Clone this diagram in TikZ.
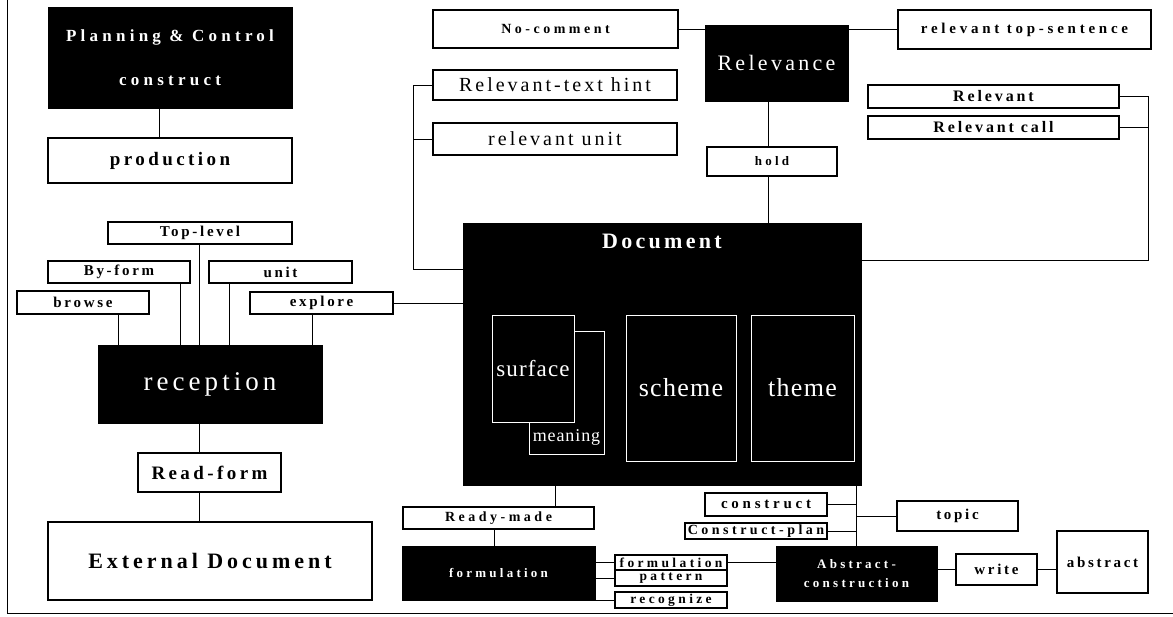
\documentclass[tikz,border=0pt]{standalone}
\usepackage{fontspec}
\setmainfont{Liberation Serif}
\newfontfamily\lblfont[LetterSpace=18]{Liberation Serif}
\newfontfamily\widefont[LetterSpace=25]{Liberation Serif}
\newfontfamily\plainfont[LetterSpace=15]{Liberation Serif}
\newfontfamily\pagefont[LetterSpace=5]{Liberation Serif}
\newcommand{\fsz}[1]{\fontsize{#1}{#1}\selectfont}
\usetikzlibrary{shapes}
\tikzstyle{whitebox} = [draw, rectangle, fill=white, inner sep=0pt, line width=1.2pt]
\tikzstyle{blackbox} = [draw, rectangle, fill=black, text=white, inner sep=0pt]
\tikzstyle{pagebox} = [draw=white, rectangle, fill=black, text=white, inner sep=0pt, line width=0.6pt]

\begin{document}
\begin{tikzpicture}[x=1pt,y=-1pt,line width=1pt]
	\useasboundingbox (0,0) rectangle (1173,616);
	\draw (7,0) -- (7,613) -- (1173,613);

	% planning and relevance blocks at the top
	\node [blackbox,minimum width=244pt,minimum height=101pt,align=center,font={\widefont\bfseries\fontsize{17}{44}\selectfont}] (plan) at (170,57.5) {Planning \& Control\\construct};
	\node [whitebox,minimum width=244pt,minimum height=45pt,font={\lblfont\bfseries\fsz{19}}] (prod) at (170,160.5) {production};
	\node [whitebox,minimum width=245pt,minimum height=38pt,font={\widefont\bfseries\fsz{14}}] (nocom) at (555.5,29) {No-comment};
	\node [blackbox,minimum width=143pt,minimum height=76pt,font={\plainfont\fsz{22}}] (relev) at (776.5,63) {Relevance};
	\node [whitebox,minimum width=253pt,minimum height=39pt,font={\widefont\bfseries\fsz{15}}] (topsent) at (1024.5,29.5) {relevant top-sentence};
	\node [whitebox,minimum width=244pt,minimum height=30pt,font={\plainfont\fsz{20}}] (rthint) at (555,85) {Relevant-text hint};
	\node [whitebox,minimum width=244pt,minimum height=32pt,font={\plainfont\fsz{20}}] (runit) at (555,139) {relevant unit};
	\node [whitebox,minimum width=130pt,minimum height=29pt,font={\widefont\bfseries\fsz{13}}] (hold) at (772,161.5) {hold};
	\node [whitebox,minimum width=251pt,minimum height=23pt,font={\lblfont\bfseries\fsz{16}}] (relevant) at (993.5,96.5) {Relevant};
	\node [whitebox,minimum width=251pt,minimum height=23pt,font={\lblfont\bfseries\fsz{16}}] (rcall) at (993.5,127.5) {Relevant call};

	% the document and its layers
	\node [blackbox,minimum width=398pt,minimum height=262pt,label={[text=white,anchor=north,yshift=-8pt,font={\plainfont\bfseries\fsz{22}}]north:Document}] (doc) at (662,354) {};
	\node [pagebox,minimum width=75pt,minimum height=123pt,label={[text=white,anchor=south,yshift=5pt,font={\pagefont\fsz{18}}]south:meaning}] (meaning) at (566.5,392.5) {};
	\node [pagebox,minimum width=82pt,minimum height=107pt,font={\pagefont\fsz{23}}] (surface) at (533,368.5) {surface};
	\node [pagebox,minimum width=110pt,minimum height=146pt,font={\pagefont\fsz{26}}] (scheme) at (681,388) {scheme};
	\node [pagebox,minimum width=103pt,minimum height=146pt,font={\pagefont\fsz{26}}] (theme) at (802.5,388) {theme};

	% reception side
	\node [whitebox,minimum width=184pt,minimum height=22pt,font={\lblfont\bfseries\fsz{15}}] (topl) at (200,233) {Top-level};
	\node [whitebox,minimum width=142pt,minimum height=22pt,font={\lblfont\bfseries\fsz{15}}] (byform) at (119,272) {By-form};
	\node [whitebox,minimum width=143pt,minimum height=22pt,font={\lblfont\bfseries\fsz{15}}] (unit) at (280.5,272) {unit};
	\node [whitebox,minimum width=132pt,minimum height=23pt,font={\lblfont\bfseries\fsz{15}}] (browse) at (83,302.5) {browse};
	\node [whitebox,minimum width=143pt,minimum height=22pt,font={\lblfont\bfseries\fsz{15}}] (explore) at (321.5,303) {explore};
	\node [blackbox,minimum width=224pt,minimum height=78pt,font={\plainfont\fsz{27}}] (recep) at (210,384) {reception};
	\node [whitebox,minimum width=143pt,minimum height=39pt,font={\lblfont\bfseries\fsz{19}}] (readf) at (209.5,472.5) {Read-form};
	\node [whitebox,minimum width=324pt,minimum height=78pt,font={\lblfont\bfseries\fsz{22}}] (extdoc) at (210,561) {External Document};

	% formulation and abstract construction
	\node [whitebox,minimum width=191pt,minimum height=22pt,font={\widefont\bfseries\fsz{14}}] (ready) at (498.5,518) {Ready-made};
	\node [blackbox,minimum width=193pt,minimum height=54pt,font={\widefont\bfseries\fsz{13}}] (formul) at (498.5,573) {formulation};
	\node [whitebox,minimum width=112pt,minimum height=15pt,font={\widefont\bfseries\fsz{13.5}}] (sform) at (671,562.5) {formulation};
	\node [whitebox,minimum width=112pt,minimum height=16pt,font={\widefont\bfseries\fsz{13.5}}] (spatt) at (671,578) {pattern};
	\node [whitebox,minimum width=112pt,minimum height=16pt,font={\widefont\bfseries\fsz{13.5}}] (srecog) at (671,600) {recognize};
	\node [blackbox,minimum width=161pt,minimum height=55pt,align=center,font={\widefont\bfseries\fontsize{13}{19}\selectfont}] (abscon) at (856.5,573.5) {Abstract-\\construction};
	\node [whitebox,minimum width=122pt,minimum height=23pt,font={\widefont\bfseries\fsz{15}}] (construct) at (766,504.5) {construct};
	\node [whitebox,minimum width=142pt,minimum height=16pt,font={\widefont\bfseries\fsz{14}}] (cplan) at (756,531) {Construct-plan};
	\node [whitebox,minimum width=121pt,minimum height=30pt,font={\lblfont\bfseries\fsz{15}}] (topic) at (957.5,516) {topic};
	\node [whitebox,minimum width=81pt,minimum height=31pt,font={\lblfont\bfseries\fsz{15}}] (write) at (996.5,569.5) {write};
	\node [whitebox,minimum width=91pt,minimum height=62pt,font={\lblfont\bfseries\fsz{15}}] (abstract) at (1102.5,562) {abstract};

	% connectors at the top
	\draw (plan.south -| 159,0) -- (159,0 |- prod.north);
	\draw (nocom.east) -- (nocom.east -| relev.west);
	\draw (topsent.west) -- (topsent.west -| relev.east);
	\draw (relev.south -| 768,0) -- (768,0 |- hold.north);
	\draw (hold.south -| 768,0) -- (768,0 |- doc.north);

	% brackets into the document
	\coordinate (lb) at (413,269);
	\coordinate (rb) at (1148,260);
	\draw (rthint.west) -| (lb) -- (lb -| doc.west);
	\draw (runit.west) -- (runit.west -| lb);
	\draw (relevant.east) -| (rb) -- (rb -| doc.east);
	\draw (rcall.east) -- (rcall.east -| rb);

	% reception
	\draw (browse.south -| 118,0) -- (118,0 |- recep.north);
	\draw (byform.south -| 180,0) -- (180,0 |- recep.north);
	\draw (topl.south -| 199,0) -- (199,0 |- recep.north);
	\draw (unit.south -| 229,0) -- (229,0 |- recep.north);
	\draw (explore.south -| 312,0) -- (312,0 |- recep.north);
	\draw (explore.east) -- (explore.east -| doc.west);
	\draw (recep.south -| 199,0) -- (199,0 |- readf.north);
	\draw (readf.south -| 199,0) -- (199,0 |- extdoc.north);

	% formulation
	\draw (doc.south -| 555,0) -- (555,0 |- ready.north);
	\draw (ready.south -| 494,0) -- (494,0 |- formul.north);
	\draw (sform.west -| formul.east) -- (sform.west);
	\draw (spatt.west -| formul.east) -- (spatt.west);
	\draw (srecog.west -| formul.east) -- (srecog.west);
	\draw (sform.east) -- (sform.east -| abscon.west);

	% abstract construction
	\draw (abscon.north) -- (abscon.north |- doc.south);
	\draw (construct.east) -- (construct.east -| abscon.north);
	\draw (cplan.east) -- (cplan.east -| abscon.north);
	\draw (topic.west) -- (topic.west -| abscon.north);
	\draw (write.west -| abscon.east) -- (write.west);
	\draw (write.east) -- (write.east -| abstract.west);

\end{tikzpicture}
\end{document}
